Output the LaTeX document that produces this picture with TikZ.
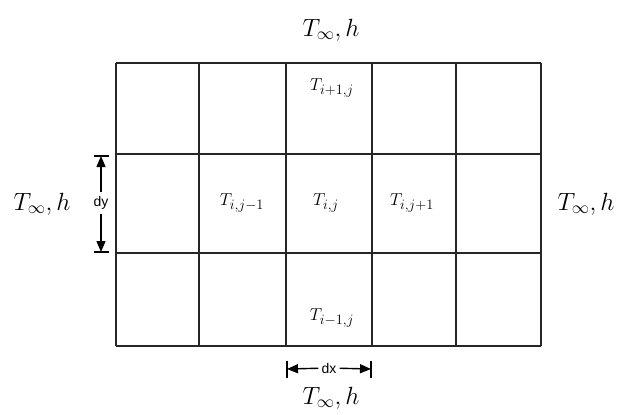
\documentclass[tikz,border=0pt]{standalone}
\usepackage{fontspec}
\setsansfont{Liberation Sans}
\DeclareMathSizes{18}{18}{14.5}{11}
\DeclareMathSizes{23}{23}{16}{12}
\usetikzlibrary{arrows.meta}
\begin{document}
\begin{tikzpicture}[x=1pt,y=-1pt,
  gridline/.style={line width=1.8pt,black!85},
  outer/.style={font=\fontsize{23}{27}\selectfont,inner sep=1pt},
  cell/.style={font=\fontsize{18}{21}\selectfont,inner sep=1pt},
  dimtext/.style={font=\sffamily\fontsize{14}{16}\selectfont,inner sep=2pt,fill=white},
  dimarrow/.style={line width=1.4pt,-{Triangle[length=11pt,width=9pt]}},
  dimbar/.style={line width=1.4pt}]
\useasboundingbox (0,0) rectangle (624,415);
% grid
\foreach \x in {116,199,286,372,456,541} \draw[gridline] (\x,63) -- (\x,346);
\foreach \y in {63,154,253,346} \draw[gridline] (116,\y) -- (541,\y);
% outer labels
\node[outer] (top) at (331,30) {$T_\infty, h$};
\node[outer] (bot) at (331,398) {$T_\infty, h$};
\node[outer] (lft) at (42,204) {$T_\infty, h$};
\node[outer] (rgt) at (586,204) {$T_\infty, h$};
% cell labels
\node[cell] (up) at (332,88) {$T_{i+1,j}$};
\node[cell] (lc) at (242,203) {$T_{i,j-1}$};
\node[cell] (cc) at (326,203) {$T_{i,j}$};
\node[cell] (rc) at (412,203) {$T_{i,j+1}$};
\node[cell] (dn) at (332,318) {$T_{i-1,j}$};
% dy dimension
\coordinate (dyt) at (101,156);
\coordinate (dyb) at (101,252);
\coordinate (dytl) at (94,156); \coordinate (dytr) at (109,156);
\coordinate (dybl) at (94,252); \coordinate (dybr) at (109,252);
\node[dimtext,inner ysep=4pt] (dy) at (101,203) {dy};
\draw[dimbar] (dytl) -- (dytr);
\draw[dimbar] (dybl) -- (dybr);
\draw[dimarrow] (dy) -- (dyt);
\draw[dimarrow] (dy) -- (dyb);
% dx dimension
\coordinate (dxl) at (287,369);
\coordinate (dxr) at (371,369);
\coordinate (dxlt) at (287,361); \coordinate (dxlb) at (287,378);
\coordinate (dxrt) at (371,361); \coordinate (dxrb) at (371,378);
\node[dimtext,inner xsep=3pt] (dx) at (329,368) {dx};
\draw[dimbar] (dxlt) -- (dxlb);
\draw[dimbar] (dxrt) -- (dxrb);
\draw[dimarrow] (dx) -- (dxl);
\draw[dimarrow] (dx) -- (dxr);
\end{tikzpicture}
\end{document}
